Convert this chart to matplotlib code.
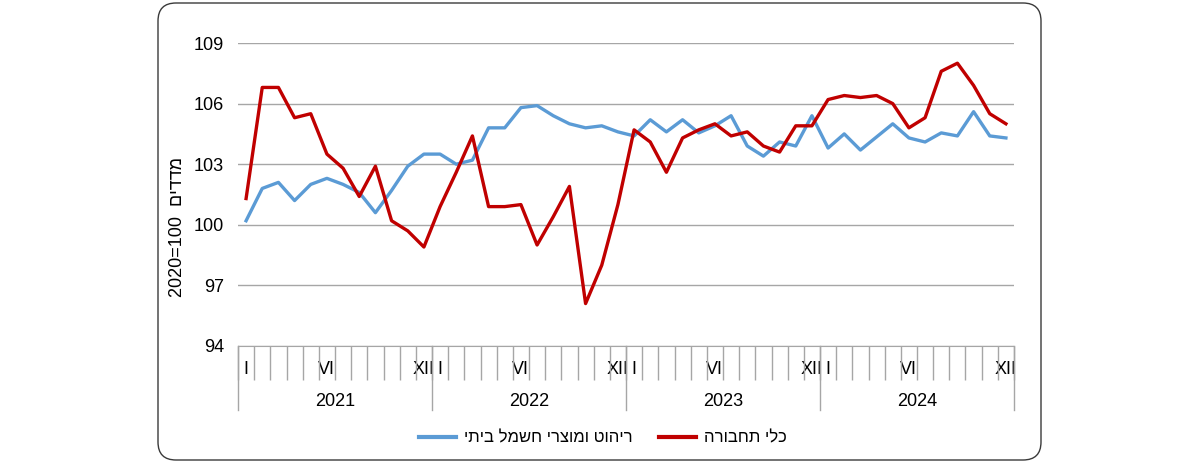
import matplotlib
matplotlib.use('Agg')
import matplotlib.pyplot as plt
import matplotlib.transforms as mtrans
from matplotlib.patches import FancyBboxPatch
from matplotlib.lines import Line2D
import numpy as np

plt.rcParams['font.family'] = ['Liberation Sans', 'DejaVu Sans']

years = ['2021', '2022', '2023', '2024']
month_labels = ['I', '', '', '', '', 'VI', '', '', '', '', '', 'XII']

furniture = [100.2, 101.8, 102.1, 101.2, 102.0, 102.3, 102.0, 101.6, 100.6, 101.7, 102.9, 103.5,
             103.5, 103.0, 103.2, 104.8, 104.8, 105.8, 105.9, 105.4, 105.0, 104.8, 104.9, 104.6,
             104.4, 105.2, 104.6, 105.2, 104.55, 104.9, 105.4, 103.9, 103.4, 104.1, 103.9, 105.4,
             103.8, 104.5, 103.7, 104.35, 105.0, 104.3, 104.1, 104.55, 104.4, 105.6, 104.4, 104.3]
vehicles = [101.3, 106.8, 106.8, 105.3, 105.5, 103.5, 102.8, 101.4, 102.9, 100.2, 99.7, 98.9,
            100.9, 102.6, 104.4, 100.9, 100.9, 101.0, 99.0, 100.4, 101.9, 96.1, 98.0, 101.0,
            104.7, 104.1, 102.6, 104.3, 104.7, 105.0, 104.4, 104.6, 103.9, 103.6, 104.9, 104.9,
            106.2, 106.4, 106.3, 106.4, 106.0, 104.8, 105.3, 107.6, 108.0, 106.9, 105.5, 105.0]
series_names = ['ריהוט ומוצרי חשמל ביתי', 'כלי תחבורה']
series_colors = ['#5B9BD5', '#C00000']
y_ticks = [94, 97, 100, 103, 106, 109]
y_label = ('2020=100', 'מדדים')


def vis(s):
    # Hebrew text in visual (left-to-right) order
    return s[::-1]


W, H = 1200, 462
fig = plt.figure(figsize=(W / 100, H / 100), dpi=100)

border = FancyBboxPatch((158, 2), 883, 457, boxstyle='round,pad=0,rounding_size=18',
                        transform=mtrans.IdentityTransform(), fill=False,
                        edgecolor='#3a3a3a', lw=1.0)
fig.patches.append(border)

ax = fig.add_axes([238 / W, 1 - 346 / H, 776 / W, 303 / H])
n = len(furniture)
x = np.arange(n)
ax.plot(x, furniture, color=series_colors[0], lw=2.4, solid_joinstyle='round')
ax.plot(x, vehicles, color=series_colors[1], lw=2.4, solid_joinstyle='round')

ax.set_xlim(-0.5, n - 0.5)
ax.set_ylim(y_ticks[0], y_ticks[-1])
ax.set_yticks(y_ticks)
ax.set_yticklabels([str(v) for v in y_ticks], fontsize=13)
ax.tick_params(axis='y', length=0, pad=10)
ax.grid(axis='y', color='#a6a6a6', lw=1)
ax.set_axisbelow(True)
for s in ['left', 'right', 'top']:
    ax.spines[s].set_visible(False)
ax.spines['bottom'].set_color('#a6a6a6')

ax.set_xticks(x)
ax.set_xticklabels(month_labels * len(years), fontsize=13)
ax.tick_params(axis='x', which='major', length=0, pad=10.5)
ax.set_xticks(np.arange(-0.5, n, 1), minor=True)
ax.tick_params(axis='x', which='minor', length=24.5, color='#a6a6a6', width=1)

trans = mtrans.blended_transform_factory(ax.transData, ax.transAxes)
for k in range(len(years) + 1):
    b = 12 * k - 0.5
    ax.plot([b, b], [0, -64 / 303], transform=trans, clip_on=False, color='#a6a6a6', lw=1)
for k, yr in enumerate(years):
    ax.text(12 * k + 5.5, -(402 - 346) / 303, yr, transform=trans, ha='center', va='center',
            fontsize=13)

fig.text(178 / W, 1 - 227 / H, y_label[0] + '  ' + vis(y_label[1]), rotation=90,
         ha='center', va='center', fontsize=13)

handles = [Line2D([], [], color=c, lw=3) for c in series_colors]
fig.legend(handles, [vis(s) for s in series_names], loc='center',
           bbox_to_anchor=(603 / W, 1 - 438 / H), ncol=2, frameon=False, fontsize=12,
           handlelength=2.2, handletextpad=0.5, columnspacing=1.6)

fig.savefig('out.png', dpi=100)
